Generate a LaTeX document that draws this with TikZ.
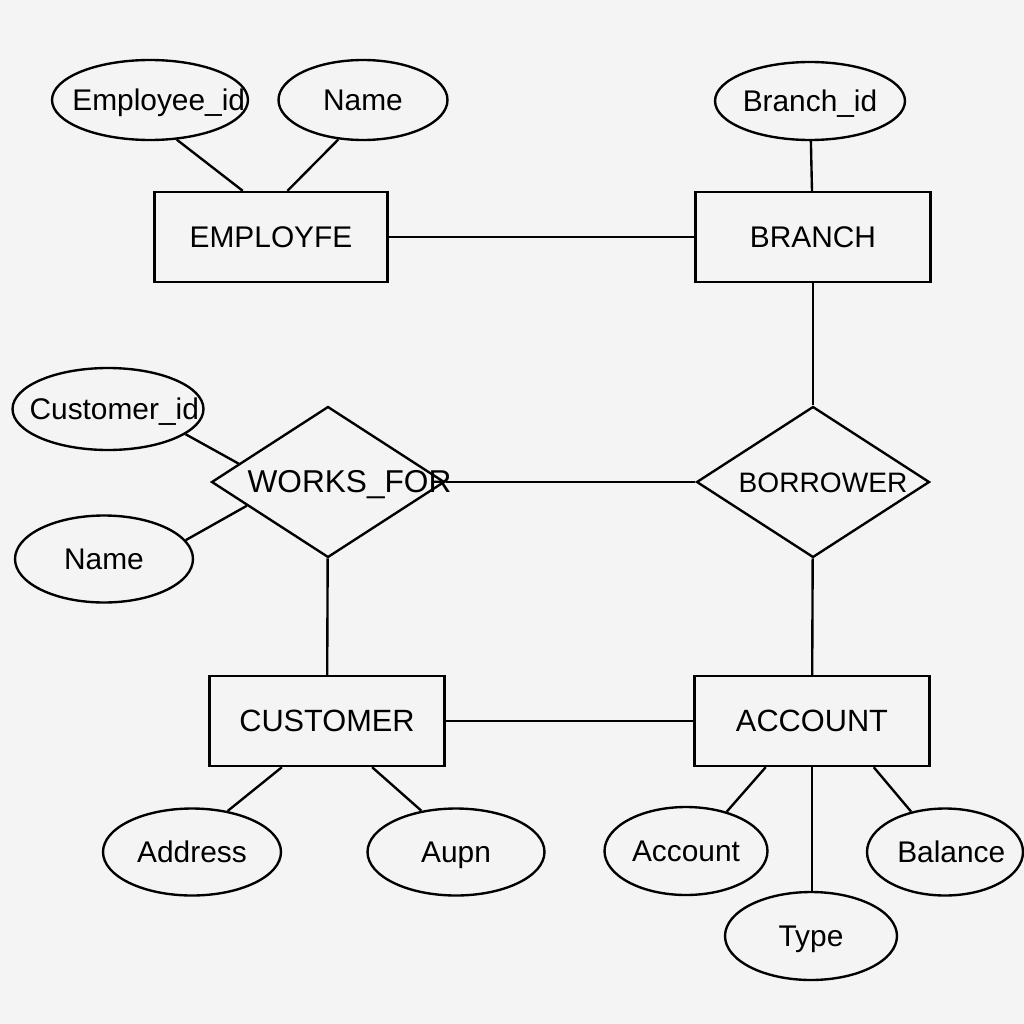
\documentclass[tikz,border=0pt]{standalone}
\usepackage{fontspec}
\setmainfont{Liberation Sans}
\usepackage{xcolor}
\usepackage{tikz}
\usetikzlibrary{shapes.geometric, calc}

\definecolor{paper}{HTML}{F4F4F4}

\begin{document}
\begin{tikzpicture}[
	x=0.02cm, y=-0.02cm,
	every node/.style={draw, line width=1.35pt, text centered, inner sep=0pt, text height=12pt, text depth=0pt, font=\fontsize{17}{20}\selectfont},
	entity/.style={rectangle, minimum width=4.7cm, minimum height=1.8cm},
	relation/.style={diamond, aspect=1.55, inner xsep=-1.5cm, minimum width=4.66cm, minimum height=3.02cm},
	attrib/.style={ellipse, inner xsep=-1.2cm, minimum height=1.7cm},
	edge/.style={draw, line width=1.35pt}
	]
	
	% Background
	\fill[paper] (0,0) rectangle (1024,1024);
	\useasboundingbox (0,0) rectangle (1024,1024);
	
	% Define nodes
	\node (employee) [entity, minimum width=4.66cm] at (271,237) {EMPLOYFE};
	\node (branch) [entity] at (813,237) {BRANCH};
	\node (customer) [entity, font=\fontsize{17.5}{20}\selectfont] at (327,721) {CUSTOMER};
	\node (account) [entity, font=\fontsize{17.5}{20}\selectfont] at (812,721) {ACCOUNT};
	\node (worksFor) [relation, font=\fontsize{18}{20}\selectfont] at (328,482) {\hspace*{0.86cm}WORKS\_FOR};
	\node (borrower) [relation, font=\fontsize{16}{20}\selectfont] at (813,482) {\hspace*{0.4cm}BORROWER};
	\node (employeeId) [attrib, minimum width=3.92cm, minimum height=1.6cm] at (150,100) {\hspace*{0.35cm}Employee\_id};
	\node (empName) [attrib, minimum width=3.38cm, minimum height=1.6cm] at (363,100) {Name};
	\node (branchId) [attrib, minimum width=3.8cm, minimum height=1.56cm] at (810,101) {Branch\_id};
	\node (customerId) [attrib, minimum width=3.82cm, minimum height=1.64cm] at (108,409) {\hspace*{0.25cm}Customer\_id};
	\node (custName) [attrib, minimum width=3.56cm, minimum height=1.74cm] at (104,559) {Name};
	\node (address) [attrib, minimum width=3.56cm, minimum height=1.74cm] at (192,852) {Address};
	\node (aupn) [attrib, minimum width=3.54cm, minimum height=1.74cm] at (456,852) {Aupn};
	\node (accountNo) [attrib, minimum width=3.26cm, minimum height=1.76cm] at (686,851) {Account};
	\node (balance) [attrib, minimum width=3.12cm, minimum height=1.74cm] at (945,852) {\hspace*{0.25cm}Balance};
	\node (type) [attrib, minimum width=3.44cm, minimum height=1.76cm] at (811,936) {Type};
	
	% Draw edges
	\path [edge] (employeeId.-56) -- ($(employee.north west)!0.38!(employee.north east)$);
	\path [edge] (empName.-122) -- ($(employee.north west)!0.57!(employee.north east)$);
	\path [edge] (employee) -- (branch);
	\path [edge] (branchId) -- (branch);
	\path [edge] (branch) -- (borrower);
	\path [edge] (worksFor) -- (borrower);
	\path [edge] (customerId.-18) -- ($(worksFor.west)!0.24!(worksFor.north)$);
	\path [edge] (custName.13) -- ($(worksFor.west)!0.31!(worksFor.south)$);
	\path [edge] (worksFor) -- (customer);
	\path [edge] (borrower) -- (account);
	\path [edge] (customer) -- (account);
	\path [edge] ($(customer.south west)!0.31!(customer.south east)$) -- (address.49);
	\path [edge] ($(customer.south west)!0.69!(customer.south east)$) -- (aupn.130);
	\path [edge] ($(account.south west)!0.305!(account.south east)$) -- (accountNo.44);
	\path [edge] (account.south) -- (account.south |- type.north);
	\path [edge] ($(account.south west)!0.76!(account.south east)$) -- (balance.130);
	
\end{tikzpicture}
\end{document}
